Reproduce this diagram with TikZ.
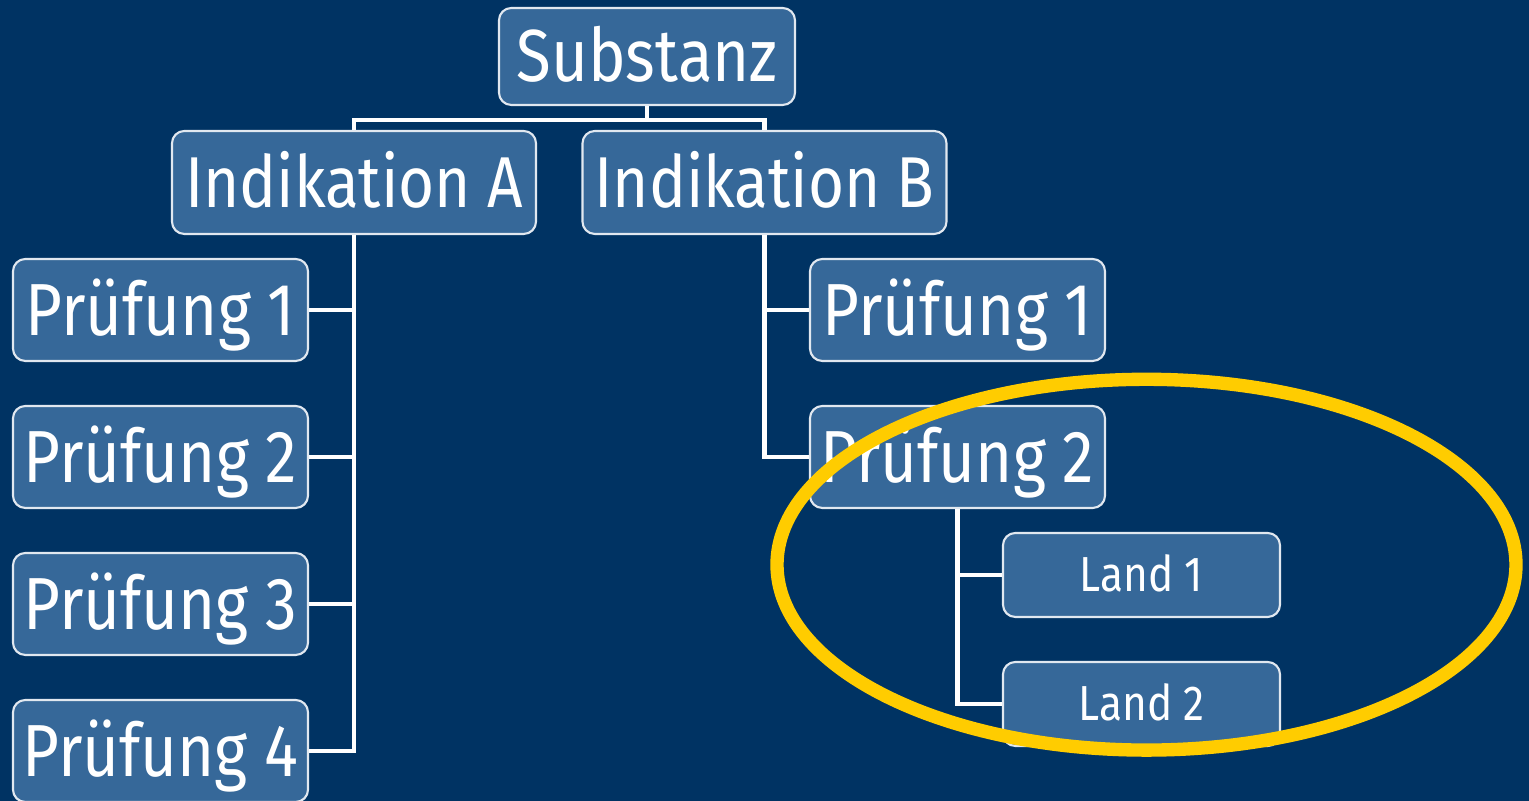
\documentclass[tikz,border=0pt]{standalone}
\usepackage{fontspec}
\setmainfont{Fira Sans}[FakeStretch=0.86]
\usetikzlibrary{positioning}

\definecolor{navy}{RGB}{0,51,99}
\definecolor{boxblue}{RGB}{54,104,153}
\definecolor{ringyellow}{RGB}{255,204,0}

\tikzstyle{box}=[draw=white!85!boxblue,fill=boxblue,line width=0.6pt,rounded corners=3.5pt,
                 text=white,inner sep=0pt,text depth=0pt]
\tikzstyle{top}=[box,minimum width=2.96cm,minimum height=0.97cm,text height=0.50cm,
                 font=\fontsize{21}{25}\selectfont]
\tikzstyle{ind}=[box,minimum width=3.64cm,minimum height=1.03cm,text height=0.50cm,
                 font=\fontsize{20.5}{24}\selectfont]
\tikzstyle{test}=[box,minimum width=2.95cm,minimum height=1.02cm,text height=0.51cm,
                 font=\fontsize{21}{25}\selectfont]
\tikzstyle{land}=[box,minimum width=2.77cm,minimum height=0.84cm,text height=0.34cm,
                 font=\fontsize{14}{17}\selectfont]
\tikzstyle{edge}=[draw=white,line width=1.2pt]
\tikzstyle{ring}=[draw=ringyellow,line width=3.8pt]

\begin{document}
\begin{tikzpicture}
\fill[navy] (0,0) rectangle (15.29,-8.01);
\useasboundingbox (0,0) rectangle (15.29,-8.01);

\node[top] (S) at (6.47,-0.565) {Substanz};
\node[ind] (IA) at (3.54,-1.825) {Indikation A};
\node[ind] (IB) at (7.645,-1.825) {Indikation B};

% Indikation A
\foreach \y/\name/\nr in {3.10/PA1/1, 4.57/PA2/2, 6.04/PA3/3, 7.51/PA4/4}{
  \node[test] (\name) at (1.605,-\y) {Prüfung \nr};
}
% Indikation B
\foreach \y/\name/\nr in {3.10/PB1/1, 4.57/PB2/2}{
  \node[test] (\name) at (9.575,-\y) {Prüfung \nr};
}
\node[land] (L1) at (11.415,-5.75) {Land 1};
\node[land] (L2) at (11.415,-7.04) {Land 2};

\path[edge] (S.south) -- ++(0,-0.14) coordinate (split);
\path[edge] (split) -| (IA.north);
\path[edge] (split) -| (IB.north);

\path[edge] (IA.south) |- (PA4.east);
\foreach \name in {PA1,PA2,PA3}
  \path[edge] (\name.east) -- (IA.south |- \name.east);

\path[edge] (IB.south) |- (PB2.west);
\path[edge] (PB1.west) -- (IB.south |- PB1.west);

\path[edge] (PB2.south) |- (L2.west);
\path[edge] (L1.west) -- (PB2.south |- L1.west);

\draw[ring] (11.465,-5.647) ellipse [x radius=3.695cm, y radius=1.854cm];
\end{tikzpicture}
\end{document}
